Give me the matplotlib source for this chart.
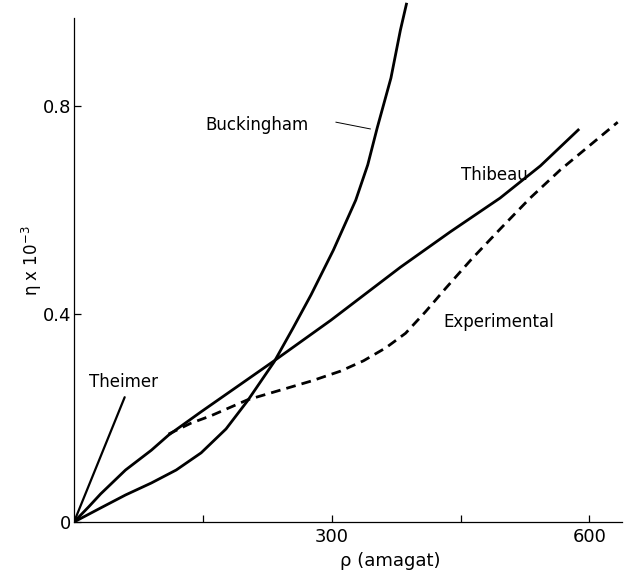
import numpy as np
import matplotlib.pyplot as plt

# Data (rho in amagat, eta x 10^-3)
theimer_x = [0, 59]
theimer_y = [0, 0.240]

thibeau_x = [0, 17, 31, 60, 90, 110, 148, 194, 233, 299, 380, 438, 496, 543, 587]
thibeau_y = [0, 0.029, 0.054, 0.100, 0.138, 0.167, 0.212, 0.265, 0.310, 0.388,
             0.490, 0.558, 0.623, 0.685, 0.754]

buck_x = [0, 31, 60, 90, 119, 148, 177, 202, 233, 255, 276, 302, 328, 342, 353,
          369, 380, 387]
buck_y = [0, 0.027, 0.052, 0.075, 0.100, 0.133, 0.179, 0.233, 0.308, 0.373,
          0.437, 0.523, 0.619, 0.687, 0.758, 0.854, 0.946, 0.996]

exp_x = [110, 136, 159, 202, 241, 276, 310, 337, 363, 386, 409, 433, 462, 497,
         531, 566, 601, 633]
exp_y = [0.169, 0.190, 0.204, 0.235, 0.254, 0.271, 0.290, 0.310, 0.335, 0.363,
         0.404, 0.450, 0.504, 0.565, 0.623, 0.677, 0.725, 0.769]

x_major = [300, 600]
x_minor = [150, 450]
y_major = [0, 0.4, 0.8]
y_labels = ['0', '0.4', '0.8']

fig = plt.figure(figsize=(6.25, 5.73), dpi=100)
ax = fig.add_axes([74 / 625, 51 / 573, 548 / 625, 522 / 573])

lw = 2.0
ax.plot(theimer_x, theimer_y, color='black', lw=1.6, solid_capstyle='round')
ax.plot(thibeau_x, thibeau_y, color='black', lw=lw, solid_joinstyle='round')
ax.plot(buck_x, buck_y, color='black', lw=lw, solid_joinstyle='round')
ax.plot(exp_x, exp_y, color='black', lw=lw, dashes=(3.5, 2.2))

ax.set_xlim(0, 638)
ax.set_ylim(0, 1.004)

for s in ['top', 'right']:
    ax.spines[s].set_visible(False)
ax.spines['left'].set_bounds(0, 0.97)
ax.spines['left'].set_linewidth(0.9)
ax.spines['bottom'].set_linewidth(0.9)

ax.set_xticks(x_major)
ax.set_xticks(x_minor, minor=True)
ax.set_yticks(y_major)
ax.set_yticklabels(y_labels)
ax.tick_params(axis='both', which='both', direction='in', length=5, width=0.9,
               labelsize=13)
ax.tick_params(axis='y', pad=2)
ax.tick_params(axis='x', pad=4)

ax.text(17, 0.269, 'Theimer', fontsize=12, va='center')
ax.text(153, 0.763, 'Buckingham', fontsize=12, va='center')
ax.plot([305, 345], [0.769, 0.756], color='black', lw=0.7)
ax.text(450, 0.668, 'Thibeau', fontsize=12, va='center')
ax.text(430, 0.385, 'Experimental', fontsize=12, va='center')

ax.set_ylabel('η x 10$^{-3}$', fontsize=12)
ax.yaxis.set_label_coords(-0.055, 0.50)
ax.text(0.577, -0.075, 'ρ (amagat)', transform=ax.transAxes, fontsize=13,
        ha='center', va='center')

fig.savefig('out.png', dpi=100)
